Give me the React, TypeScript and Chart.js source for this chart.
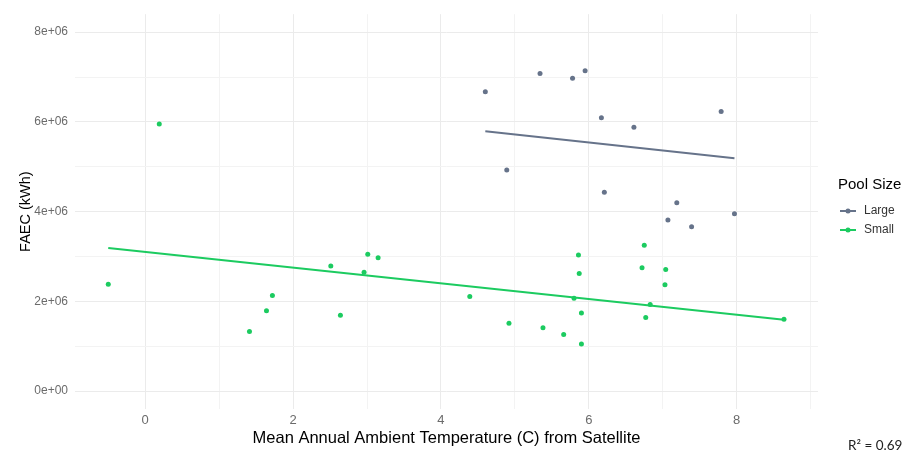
import React, { useEffect, useRef } from "react";
import { Chart, registerables } from "chart.js";

Chart.register(...registerables);

const largeTemp = [4.6, 4.89, 5.34, 5.78, 5.95, 6.17, 6.21, 6.61, 7.79, 7.19, 7.07, 7.39, 7.97];
const largeFaec = [6.67e6, 4.93e6, 7.08e6, 6.97e6, 7.14e6, 6.09e6, 4.43e6, 5.88e6, 6.23e6, 4.2e6, 3.81e6, 3.66e6, 3.95e6];

const smallTemp = [0.19, -0.5, 1.41, 1.64, 1.72, 2.51, 2.64, 2.96, 3.01, 3.15, 4.39, 4.92, 5.38, 5.66, 5.9, 5.86, 5.87, 5.8, 5.9, 6.75, 6.72, 7.04, 7.03, 6.83, 6.77, 8.64];
const smallFaec = [5.95e6, 2.38e6, 1.33e6, 1.79e6, 2.13e6, 2.79e6, 1.69e6, 2.65e6, 3.05e6, 2.97e6, 2.11e6, 1.51e6, 1.41e6, 1.26e6, 1.05e6, 3.03e6, 2.62e6, 2.07e6, 1.74e6, 3.25e6, 2.75e6, 2.71e6, 2.37e6, 1.93e6, 1.64e6, 1.6e6];

const largeFitTemp = [4.6, 7.97];
const largeFitFaec = [5.79e6, 5.19e6];
const smallFitTemp = [-0.5, 8.64];
const smallFitFaec = [3.19e6, 1.59e6];

const xTicks = [0, 1, 2, 3, 4, 5, 6, 7, 8, 9];
const yTicks = [0, 1e6, 2e6, 3e6, 4e6, 5e6, 6e6, 7e6, 8e6];
const seriesNames = ["Large", "Small"];
const legendTitle = "Pool Size";
const xTitle = "Mean Annual Ambient Temperature (C) from Satellite";
const yTitle = "FAEC (kWh)";
const r2Text = "R\u00B2 = 0.69";

const LARGE_COLOR = "#66738A";
const SMALL_COLOR = "#1CCB60";

const pts = (xs: number[], ys: number[]) => xs.map((x, i) => ({ x, y: ys[i] }));

const fmtSci = (v: number) => {
  if (v === 0) return "0e+00";
  const exp = Math.floor(Math.log10(Math.abs(v)));
  const mant = v / Math.pow(10, exp);
  return `${mant}e+${String(exp).padStart(2, "0")}`;
};

export default function App() {
  const ref = useRef<HTMLCanvasElement | null>(null);

  useEffect(() => {
    if (!ref.current) return;
    const legendPlugin = {
      id: "customLegend",
      afterDraw(chart: any) {
        const ctx = chart.ctx;
        ctx.save();
        ctx.textBaseline = "middle";
        ctx.textAlign = "left";
        ctx.fillStyle = "#000";
        ctx.font = '15px "Liberation Sans", Arial, sans-serif';
        ctx.fillText(legendTitle, 838, 185);
        const colors = [LARGE_COLOR, SMALL_COLOR];
        const ys = [211, 230];
        seriesNames.forEach((n, i) => {
          ctx.strokeStyle = colors[i];
          ctx.lineWidth = 2;
          ctx.beginPath();
          ctx.moveTo(840, ys[i]);
          ctx.lineTo(856, ys[i]);
          ctx.stroke();
          ctx.fillStyle = colors[i];
          ctx.beginPath();
          ctx.arc(848, ys[i], 2.5, 0, Math.PI * 2);
          ctx.fill();
          ctx.fillStyle = "#333";
          ctx.font = '12px "Liberation Sans", Arial, sans-serif';
          ctx.fillText(n, 864, ys[i]);
        });
        ctx.fillStyle = "#222";
        ctx.font = '13.5px Lato, "Open Sans", sans-serif';
        ctx.fillText(r2Text, 848, 446);
        ctx.restore();
      },
    };

    const chart = new Chart(ref.current, {
      type: "scatter",
      data: {
        datasets: [
          {
            label: "Large fit",
            data: pts(largeFitTemp, largeFitFaec),
            showLine: true,
            borderColor: LARGE_COLOR,
            borderWidth: 2,
            pointRadius: 0,
            order: 0,
          },
          {
            label: "Small fit",
            data: pts(smallFitTemp, smallFitFaec),
            showLine: true,
            borderColor: SMALL_COLOR,
            borderWidth: 2,
            pointRadius: 0,
            order: 0,
          },
          {
            label: seriesNames[0],
            data: pts(largeTemp, largeFaec),
            backgroundColor: LARGE_COLOR,
            borderWidth: 0,
            pointRadius: 2.5,
            order: 1,
          },
          {
            label: seriesNames[1],
            data: pts(smallTemp, smallFaec),
            backgroundColor: SMALL_COLOR,
            borderWidth: 0,
            pointRadius: 2.5,
            order: 1,
          },
        ],
      },
      options: {
        animation: false,
        responsive: false,
        devicePixelRatio: 1,
        layout: { padding: { left: 0, right: 90, top: 8.5, bottom: 0 } },
        plugins: { legend: { display: false }, tooltip: { enabled: false } },
        scales: {
          x: {
            type: "linear",
            min: -0.95,
            max: 9.1,
            afterBuildTicks: (scale: any) => {
              scale.ticks = xTicks.map((v) => ({ value: v }));
            },
            afterFit: (scale: any) => {
              scale.height = 48;
            },
            border: { display: false },
            grid: {
              drawTicks: false,
              color: (c: any) => (c.tick && c.tick.value % 2 === 0 ? "#EBEBEB" : "#F3F3F3"),
              lineWidth: 1,
            },
            ticks: {
              padding: 4,
              color: "#6b6b6b",
              font: { family: '"Liberation Sans", Arial, sans-serif', size: 13 },
              callback: (v: any) => (Number(v) % 2 === 0 ? String(v) : ""),
              maxRotation: 0,
              autoSkip: false,
            },
            title: {
              display: true,
              text: xTitle,
              color: "#000",
              font: { family: '"Liberation Sans", Arial, sans-serif', size: 16.5 },
              padding: { top: 0, bottom: 9 },
            },
          },
          y: {
            type: "linear",
            min: -0.4e6,
            max: 8.4e6,
            afterBuildTicks: (scale: any) => {
              scale.ticks = yTicks.map((v) => ({ value: v }));
            },
            afterFit: (scale: any) => {
              scale.width = 75;
            },
            border: { display: false },
            grid: {
              drawTicks: false,
              color: (c: any) => (c.tick && c.tick.value % 2e6 === 0 ? "#EBEBEB" : "#F3F3F3"),
              lineWidth: 1,
            },
            ticks: {
              padding: 7,
              color: "#6b6b6b",
              font: { family: '"Liberation Sans", Arial, sans-serif', size: 12 },
              callback: (v: any) => (Number(v) % 2e6 === 0 ? fmtSci(Number(v)) : ""),
              autoSkip: false,
            },
            title: {
              display: true,
              text: yTitle,
              color: "#000",
              font: { family: '"Liberation Sans", Arial, sans-serif', size: 14.5 },
              padding: { top: 17, bottom: 0 },
            },
          },
        },
      },
      plugins: [legendPlugin],
    } as any);
    return () => chart.destroy();
  }, []);

  return (
    <div style={{ position: "absolute", left: 0, top: 0, width: 908, height: 457, background: "#fff" }}>
      <canvas ref={ref} width={908} height={457} />
    </div>
  );
}
